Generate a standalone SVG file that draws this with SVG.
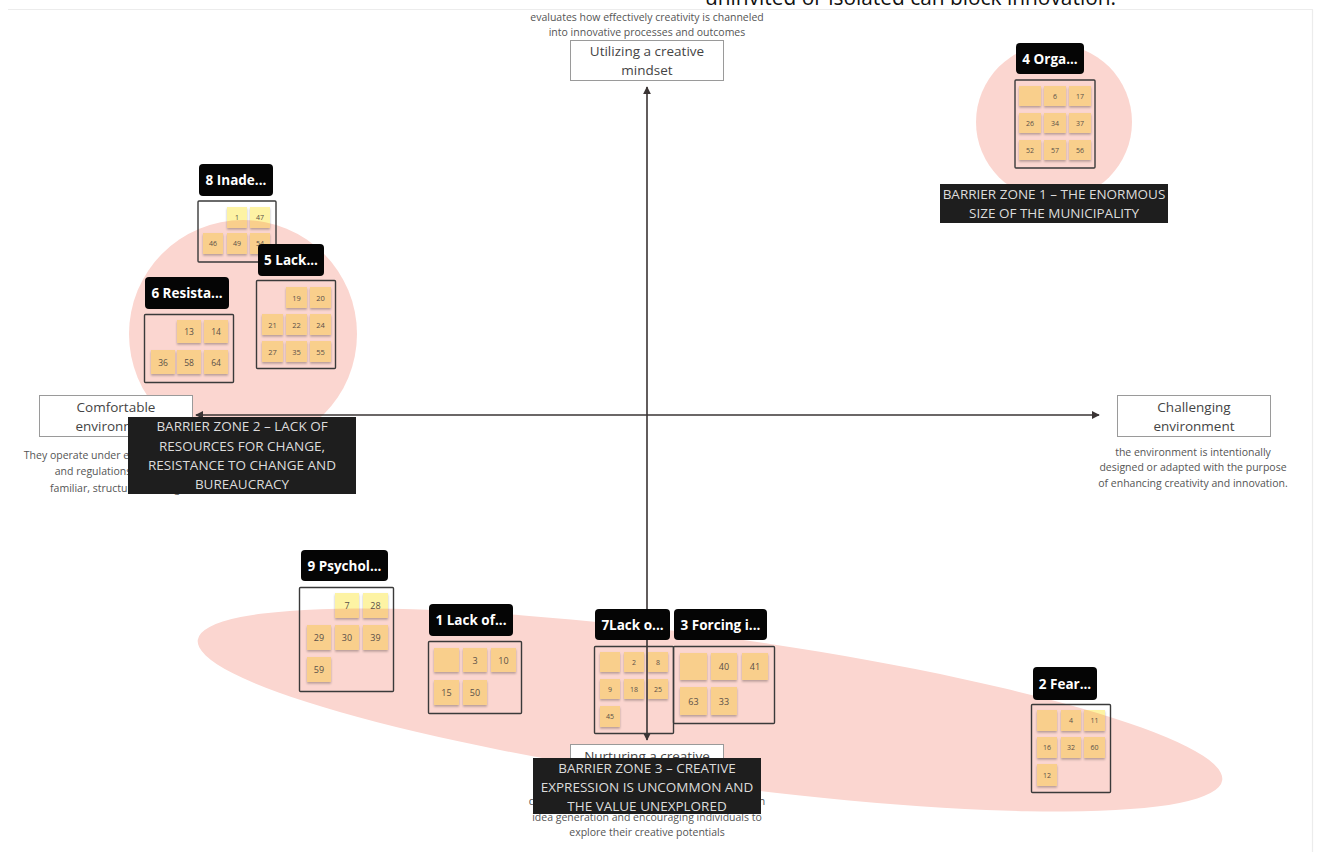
<svg xmlns="http://www.w3.org/2000/svg" width="1317" height="852" viewBox="0 0 1317 852">
  <style>
    .zone { fill: #fbd6d0; }
    .note { filter: url(#sh); }
    .ny { fill: #fdf3a4; }
    .no { fill: #f9cf8c; }
    .nt { font-family: "Open Sans", "Liberation Sans", sans-serif; fill: #5a5048; text-anchor: middle; dominant-baseline: central; }
    .frame { fill: none; stroke: #3a3a3a; stroke-width: 1.4; }
    .lbl { fill: #050505; }
    .lt { font-family: "Open Sans", "Liberation Sans", sans-serif; font-weight: 700; font-size: 13.5px; fill: #ffffff; text-anchor: middle; dominant-baseline: central; }
    .axbox { fill: #ffffff; stroke: #9a9a9a; stroke-width: 1; }
    .axt { font-family: "Open Sans", "Liberation Sans", sans-serif; font-size: 13.5px; fill: #444; text-anchor: middle; dominant-baseline: central; }
    .desc { font-family: "Open Sans", "Liberation Sans", sans-serif; font-size: 10.5px; fill: #555; text-anchor: middle; dominant-baseline: central; }
    .bz { fill: #1e1e1e; }
    .bzt { font-family: "Open Sans", "Liberation Sans", sans-serif; font-size: 13.5px; fill: #dcdcdc; text-anchor: middle; dominant-baseline: central; }
    .axis { stroke: #3a3434; stroke-width: 1.6; fill: none; }
  </style>
  <defs>
    <filter id="sh" x="-20%" y="-20%" width="140%" height="150%">
      <feDropShadow dx="0" dy="1.6" stdDeviation="0.9" flood-color="#000" flood-opacity="0.28"/>
    </filter>
    <marker id="arr" viewBox="0 0 10 10" refX="9" refY="5" markerWidth="5" markerHeight="5" orient="auto-start-reverse">
      <path d="M0,0 L10,5 L0,10 z" fill="#3a3434"/>
    </marker>
    <clipPath id="clipZ2"><circle cx="243" cy="334" r="114"/></clipPath>
    <clipPath id="clipZ3"><ellipse cx="710" cy="710" rx="517" ry="74" transform="rotate(7.8 710 710)"/></clipPath>
  </defs>

  <rect width="1317" height="852" fill="#ffffff"/>
  <!-- board edge -->
  <path d="M8,9.5 H1312.5 V852" fill="none" stroke="#ececec" stroke-width="1.2"/>
  <text x="705" y="4.5" font-family="Open Sans, Liberation Sans, sans-serif" font-size="21" fill="#111" textLength="411" lengthAdjust="spacingAndGlyphs">uninvited or isolated can block innovation.</text>

  <!-- barrier zones (background shapes) -->
  <g id="zones">
    <circle class="zone" cx="1054" cy="122" r="78"/>
    <circle class="zone" cx="243" cy="334" r="114"/>
    <ellipse class="zone" cx="710" cy="710" rx="517" ry="74" transform="rotate(7.8 710 710)"/>
  </g>

  <!-- axis end boxes -->
  <g id="top-pole">
    <text class="desc" x="647" y="17">evaluates how effectively creativity is channeled</text>
    <text class="desc" x="647" y="32">into innovative processes and outcomes</text>
    <rect class="axbox" x="570.5" y="40.5" width="153" height="40"/>
    <text class="axt" x="647" y="51">Utilizing a creative</text>
    <text class="axt" x="647" y="70">mindset</text>
  </g>
  <g id="left-pole">
    <rect class="axbox" x="39.5" y="395.5" width="153" height="41"/>
    <text class="axt" x="116" y="407">Comfortable</text>
    <text class="axt" x="116" y="426">environment</text>
    <text class="desc" x="115" y="455">They operate under established rules</text>
    <text class="desc" x="115" y="471">and regulations, within a</text>
    <text class="desc" x="115" y="488">familiar, structured setting</text>
  </g>
  <g id="right-pole">
    <rect class="axbox" x="1117.5" y="395.5" width="153" height="41"/>
    <text class="axt" x="1194" y="407">Challenging</text>
    <text class="axt" x="1194" y="426">environment</text>
    <text class="desc" x="1193" y="452">the environment is intentionally</text>
    <text class="desc" x="1193" y="467">designed or adapted with the purpose</text>
    <text class="desc" x="1193" y="483">of enhancing creativity and innovation.</text>
  </g>
  <g id="bottom-pole">
    <rect class="axbox" x="570.5" y="744.5" width="153" height="40"/>
    <text class="axt" x="647" y="756">Nurturing a creative</text>
    <text class="axt" x="647" y="775">mindset</text>
    <text class="desc" x="647" y="801">creating a space for free expression, focusing on</text>
    <text class="desc" x="647" y="817">idea generation and encouraging individuals to</text>
    <text class="desc" x="647" y="832">explore their creative potentials</text>
  </g>

  <!-- axes -->
  <g id="connectors">
    <line class="axis" x1="647" y1="415" x2="647" y2="87" marker-end="url(#arr)"/>
    <line class="axis" x1="647" y1="415" x2="647" y2="740" marker-end="url(#arr)"/>
    <line class="axis" x1="647" y1="415" x2="196" y2="415" marker-end="url(#arr)"/>
    <line class="axis" x1="647" y1="415" x2="1099" y2="415" marker-end="url(#arr)"/>
  </g>

  <!-- cluster 4 -->
  <g id="cluster-4">
    <rect class="frame" x="1015" y="80" width="80" height="88" rx="1"/>
    <g font-size="7">
      <rect class="note no" x="1019" y="86" width="22" height="20"/>
      <rect class="note no" x="1044" y="86" width="22" height="20"/><text class="nt" x="1055" y="96">6</text>
      <rect class="note no" x="1069" y="86" width="22" height="20"/><text class="nt" x="1080" y="96">17</text>
      <rect class="note no" x="1019" y="113" width="22" height="20"/><text class="nt" x="1030" y="123">26</text>
      <rect class="note no" x="1044" y="113" width="22" height="20"/><text class="nt" x="1055" y="123">34</text>
      <rect class="note no" x="1069" y="113" width="22" height="20"/><text class="nt" x="1080" y="123">37</text>
      <rect class="note no" x="1019" y="140" width="22" height="20"/><text class="nt" x="1030" y="150">52</text>
      <rect class="note no" x="1044" y="140" width="22" height="20"/><text class="nt" x="1055" y="150">57</text>
      <rect class="note no" x="1069" y="140" width="22" height="20"/><text class="nt" x="1080" y="150">56</text>
    </g>
    <rect class="lbl" x="1016" y="43" width="68" height="31" rx="4"/>
    <text class="lt" x="1050" y="58.5">4 Orga...</text>
  </g>

  <!-- cluster 8 -->
  <g id="cluster-8">
    <rect class="frame" x="198" y="201" width="78" height="61" rx="1"/>
    <g font-size="7">
      <rect class="note ny" x="227" y="207" width="20" height="21"/>
      <rect class="no" x="227" y="207" width="20" height="21" clip-path="url(#clipZ2)"/>
      <text class="nt" x="237" y="217.5">1</text>
      <rect class="note ny" x="250" y="207" width="20" height="21"/>
      <rect class="no" x="250" y="207" width="20" height="21" clip-path="url(#clipZ2)"/>
      <text class="nt" x="260" y="217.5">47</text>
      <rect class="note no" x="203" y="233" width="20" height="21"/><text class="nt" x="213" y="243.5">46</text>
      <rect class="note no" x="227" y="233" width="20" height="21"/><text class="nt" x="237" y="243.5">49</text>
      <rect class="note no" x="250" y="233" width="20" height="21"/><text class="nt" x="260" y="243.5">54</text>
    </g>
    <rect class="lbl" x="199" y="164" width="74" height="32" rx="4"/>
    <text class="lt" x="236" y="180">8 Inade...</text>
  </g>

  <!-- cluster 5 -->
  <g id="cluster-5">
    <rect class="frame" x="256.5" y="280.5" width="79" height="88" rx="1"/>
    <g font-size="7.5">
      <rect class="note no" x="286" y="287" width="21" height="21"/><text class="nt" x="296.5" y="297.5">19</text>
      <rect class="note no" x="310" y="287" width="21" height="21"/><text class="nt" x="320.5" y="297.5">20</text>
      <rect class="note no" x="262" y="314" width="21" height="21"/><text class="nt" x="272.5" y="324.5">21</text>
      <rect class="note no" x="286" y="314" width="21" height="21"/><text class="nt" x="296.5" y="324.5">22</text>
      <rect class="note no" x="310" y="314" width="21" height="21"/><text class="nt" x="320.5" y="324.5">24</text>
      <rect class="note no" x="262" y="341" width="21" height="21"/><text class="nt" x="272.5" y="351.5">27</text>
      <rect class="note no" x="286" y="341" width="21" height="21"/><text class="nt" x="296.5" y="351.5">35</text>
      <rect class="note no" x="310" y="341" width="21" height="21"/><text class="nt" x="320.5" y="351.5">55</text>
    </g>
    <rect class="lbl" x="258" y="244" width="66" height="32" rx="4"/>
    <text class="lt" x="291" y="260">5 Lack...</text>
  </g>

  <!-- cluster 6 -->
  <g id="cluster-6">
    <rect class="frame" x="144.5" y="314.5" width="89" height="68" rx="1"/>
    <g font-size="8.5">
      <rect class="note no" x="177" y="320" width="24" height="23"/><text class="nt" x="189" y="331.5">13</text>
      <rect class="note no" x="204" y="320" width="24" height="23"/><text class="nt" x="216" y="331.5">14</text>
      <rect class="note no" x="151" y="350" width="24" height="24"/><text class="nt" x="163" y="362">36</text>
      <rect class="note no" x="177" y="350" width="24" height="24"/><text class="nt" x="189" y="362">58</text>
      <rect class="note no" x="204" y="350" width="24" height="24"/><text class="nt" x="216" y="362">64</text>
    </g>
    <rect class="lbl" x="145" y="277" width="84" height="32" rx="4"/>
    <text class="lt" x="187" y="293">6 Resista...</text>
  </g>

  <!-- cluster 9 -->
  <g id="cluster-9">
    <rect class="frame" x="299.5" y="587.5" width="94" height="104" rx="1"/>
    <g font-size="9">
      <rect class="note ny" x="335" y="593" width="24" height="25"/>
      <rect class="no" x="335" y="593" width="24" height="25" clip-path="url(#clipZ3)"/>
      <text class="nt" x="347" y="605.5">7</text>
      <rect class="note ny" x="363" y="593" width="25" height="25"/>
      <rect class="no" x="363" y="593" width="25" height="25" clip-path="url(#clipZ3)"/>
      <text class="nt" x="375.5" y="605.5">28</text>
      <rect class="note no" x="307" y="625" width="24" height="25"/><text class="nt" x="319" y="637.5">29</text>
      <rect class="note no" x="335" y="625" width="24" height="25"/><text class="nt" x="347" y="637.5">30</text>
      <rect class="note no" x="363" y="625" width="25" height="25"/><text class="nt" x="375.5" y="637.5">39</text>
      <rect class="note no" x="307" y="657" width="24" height="25"/><text class="nt" x="319" y="669.5">59</text>
    </g>
    <rect class="lbl" x="301" y="550" width="87" height="31" rx="4"/>
    <text class="lt" x="344.5" y="565.5">9 Psychol...</text>
  </g>

  <!-- cluster 1 -->
  <g id="cluster-1">
    <rect class="frame" x="428.5" y="641.5" width="93" height="72" rx="1"/>
    <g font-size="9">
      <rect class="note no" x="434" y="648" width="25" height="24"/>
      <rect class="note no" x="463" y="648" width="24" height="24"/><text class="nt" x="475" y="660">3</text>
      <rect class="note no" x="491" y="648" width="25" height="24"/><text class="nt" x="503.5" y="660">10</text>
      <rect class="note no" x="434" y="680" width="25" height="25"/><text class="nt" x="446.5" y="692.5">15</text>
      <rect class="note no" x="463" y="680" width="24" height="25"/><text class="nt" x="475" y="692.5">50</text>
    </g>
    <rect class="lbl" x="429" y="604" width="84" height="32" rx="4"/>
    <text class="lt" x="471" y="620">1 Lack of...</text>
  </g>

  <!-- cluster 7 -->
  <g id="cluster-7">
    <rect class="frame" x="594.5" y="646.5" width="79" height="87" rx="1"/>
    <g font-size="7">
      <rect class="note no" x="600" y="652" width="20" height="20"/>
      <rect class="note no" x="624" y="652" width="20" height="20"/><text class="nt" x="634" y="662">2</text>
      <rect class="note no" x="648" y="652" width="20" height="20"/><text class="nt" x="658" y="662">8</text>
      <rect class="note no" x="600" y="679" width="20" height="20"/><text class="nt" x="610" y="689">9</text>
      <rect class="note no" x="624" y="679" width="20" height="20"/><text class="nt" x="634" y="689">18</text>
      <rect class="note no" x="648" y="679" width="20" height="20"/><text class="nt" x="658" y="689">25</text>
      <rect class="note no" x="600" y="706" width="20" height="21"/><text class="nt" x="610" y="716.5">45</text>
    </g>
    <rect class="lbl" x="595" y="609" width="75" height="31" rx="4"/>
    <text class="lt" x="632.5" y="624.5">7Lack o...</text>
  </g>

  <!-- cluster 3 -->
  <g id="cluster-3">
    <rect class="frame" x="673.5" y="646.5" width="101" height="77" rx="1"/>
    <g font-size="9">
      <rect class="note no" x="680" y="653" width="27" height="27"/>
      <rect class="note no" x="711" y="653" width="26" height="27"/><text class="nt" x="724" y="666.5">40</text>
      <rect class="note no" x="742" y="653" width="26" height="27"/><text class="nt" x="755" y="666.5">41</text>
      <rect class="note no" x="680" y="687" width="27" height="28"/><text class="nt" x="693.5" y="701">63</text>
      <rect class="note no" x="711" y="687" width="26" height="28"/><text class="nt" x="724" y="701">33</text>
    </g>
    <rect class="lbl" x="674" y="609" width="93" height="31" rx="4"/>
    <text class="lt" x="720.5" y="624.5">3 Forcing i...</text>
  </g>

  <!-- cluster 2 -->
  <g id="cluster-2">
    <rect class="frame" x="1031.5" y="704.5" width="79" height="88" rx="1"/>
    <g font-size="7">
      <rect class="note no" x="1037" y="710" width="20" height="21"/>
      <rect class="note no" x="1061" y="710" width="20" height="21"/><text class="nt" x="1071" y="720.5">4</text>
      <rect class="note ny" x="1084" y="710" width="21" height="21"/>
      <rect class="no" x="1084" y="710" width="21" height="21" clip-path="url(#clipZ3)"/>
      <text class="nt" x="1094.5" y="720.5">11</text>
      <rect class="note no" x="1037" y="737" width="20" height="21"/><text class="nt" x="1047" y="747.5">16</text>
      <rect class="note no" x="1061" y="737" width="20" height="21"/><text class="nt" x="1071" y="747.5">32</text>
      <rect class="note no" x="1084" y="737" width="21" height="21"/><text class="nt" x="1094.5" y="747.5">60</text>
      <rect class="note no" x="1037" y="764" width="20" height="22"/><text class="nt" x="1047" y="775">12</text>
    </g>
    <rect class="lbl" x="1033" y="667" width="64" height="33" rx="4"/>
    <text class="lt" x="1065" y="683.5">2 Fear...</text>
  </g>

  <!-- barrier zone captions -->
  <g id="barrier-1">
    <rect class="bz" x="940" y="184" width="228" height="39"/>
    <text class="bzt" x="1054" y="194">BARRIER ZONE 1 – THE ENORMOUS</text>
    <text class="bzt" x="1054" y="213">SIZE OF THE MUNICIPALITY</text>
  </g>
  <g id="barrier-2">
    <rect class="bz" x="128" y="417" width="228" height="77"/>
    <text class="bzt" x="242" y="426">BARRIER ZONE 2 – LACK OF</text>
    <text class="bzt" x="242" y="446">RESOURCES FOR CHANGE,</text>
    <text class="bzt" x="242" y="465">RESISTANCE TO CHANGE AND</text>
    <text class="bzt" x="242" y="484">BUREAUCRACY</text>
  </g>
  <g id="barrier-3">
    <rect class="bz" x="533" y="758" width="228" height="56"/>
    <text class="bzt" x="647" y="768">BARRIER ZONE 3 – CREATIVE</text>
    <text class="bzt" x="647" y="787">EXPRESSION IS UNCOMMON AND</text>
    <text class="bzt" x="647" y="806">THE VALUE UNEXPLORED</text>
  </g>
</svg>
